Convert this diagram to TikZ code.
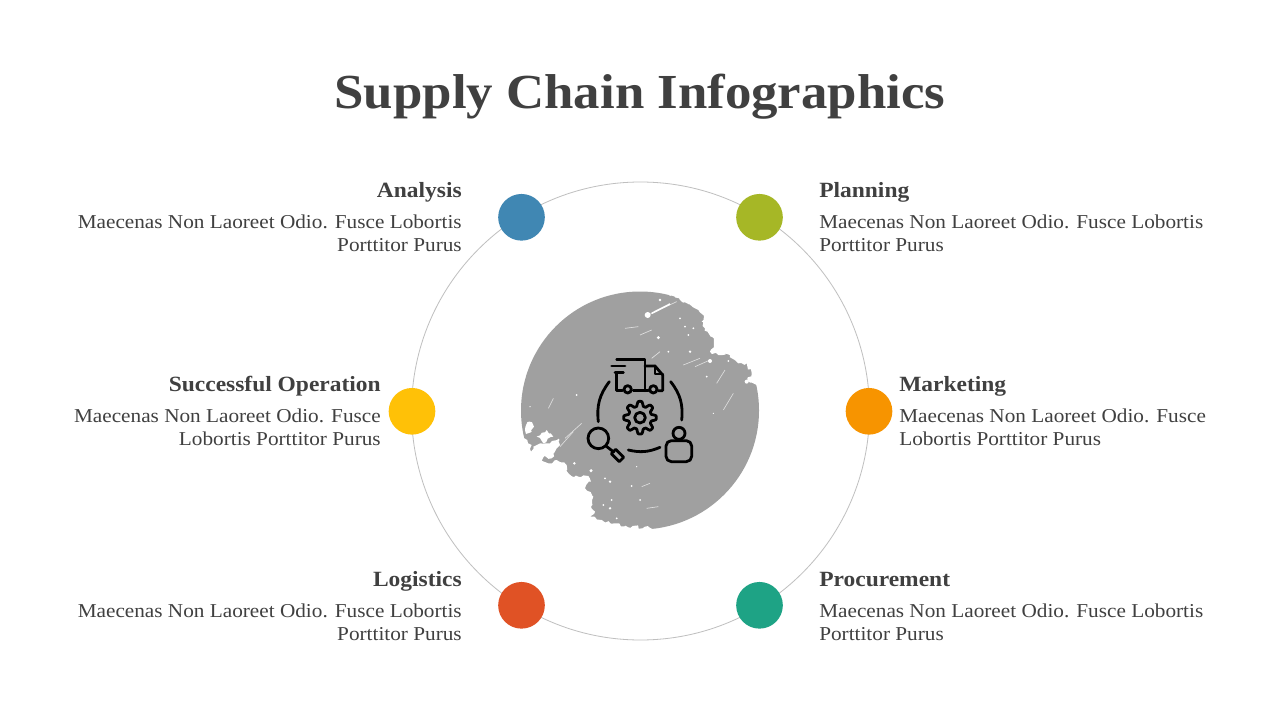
\documentclass[tikz,border=0pt]{standalone}
\usepackage{fontspec}
\setmainfont[FakeStretch=1.08]{Liberation Serif}
\usetikzlibrary{positioning, decorations.pathmorphing}
\definecolor{inkgray}{HTML}{404040}
\definecolor{brushgray}{HTML}{A0A0A0}
\definecolor{ringgray}{HTML}{BFBFBF}
\definecolor{dotblue}{HTML}{4087B3}
\definecolor{dotolive}{HTML}{A6B726}
\definecolor{dotyellow}{HTML}{FFC107}
\definecolor{dotorange}{HTML}{F79400}
\definecolor{dotred}{HTML}{E05225}
\definecolor{dotteal}{HTML}{1EA385}
\tikzset{
	titletext/.style={text=inkgray, font=\fontsize{36.7}{40}\selectfont\bfseries, inner sep=0pt},
	headtext/.style={text=inkgray, font=\fontsize{16.3}{20}\selectfont\bfseries, inner sep=0pt},
	bodytext/.style={text=inkgray, font=\fontsize{14.75}{17.25}\selectfont, inner sep=0pt},
	dot/.style={circle, minimum size=35pt, inner sep=0pt},
	icon/.style={draw=black, line width=2.1pt, line cap=round, line join=round},
	rough/.style={decorate, decoration={random steps, segment length=2.2pt, amplitude=1.3pt}},
	speck/.style={draw=white!65!brushgray, line width=.5pt},
}
\begin{document}
\begin{tikzpicture}[x=.75pt, y=-.75pt]
	\useasboundingbox[fill=white] (0,0) rectangle (1280,720);
	\node[titletext, anchor=base] (title) at (640,109) {Supply Chain Infographics};

	\draw[ringgray, line width=.6pt] (640.5,411) circle[radius=229];

	% brushed disc
	\fill[brushgray] (640,410.5) circle[radius=119];
	\begin{scope}[shift={(510,280)}, scale=.33333]
		\fill[white, rough] (490,40) -- (510,60) -- (555,85) -- (582,107) -- (575,125) -- (585,145) -- (605,170) -- (612,190) -- (600,215) -- (625,225) -- (660,225) -- (685,250) -- (710,250) -- (725,280) -- (712,303) -- (740,315) -- (750,335) -- (790,335) -- (790,200) -- (600,20) -- cycle;
		\fill[white, rough] (10,470) -- (43,475) -- (52,480) -- (65,495) -- (63,515) -- (70,500) -- (90,490) -- (120,490) -- (145,480) -- (150,495) -- (130,520) -- (125,535) -- (100,532) -- (95,542) -- (115,550) -- (140,540) -- (170,555) -- (175,580) -- (205,590) -- (235,588) -- (243,605) -- (225,625) -- (250,650) -- (243,680) -- (255,695) -- (240,710) -- (275,720) -- (315,730) -- (355,742) -- (405,740) -- (430,748) -- (440,775) -- (100,780) -- (5,520) -- cycle;
		\fill[white, rough] (58,425) -- (72,440) -- (65,455) -- (48,462) -- (45,448) -- cycle;
		\fill[white, rough] (80,470) -- (110,450) -- (130,470) -- (100,490) -- cycle;
		\draw[speck] (415,105) -- (500,65);
		\draw[white, line width=1.2pt] (425,100) -- (480,72);
		\draw[speck] (390,165) -- (425,150);
		\draw[speck] (345,145) -- (385,140);
		\draw[speck] (115,385) -- (130,355);
		\draw[speck] (150,500) -- (190,455);
		\draw[speck] (165,475) -- (215,430);
		\draw[speck] (555,260) -- (600,240);
		\draw[speck] (520,255) -- (570,235);
		\draw[speck] (425,235) -- (450,215);
		\draw[speck] (640,390) -- (670,340);
		\draw[speck] (395,620) -- (420,610);
		\draw[speck] (410,685) -- (445,680);
		\draw[speck] (270,505) -- (300,480);
		\draw[speck] (620,310) -- (645,270);
		\fill[white] (413,105) circle[radius=9];
		\foreach \sx/\sy/\sr in {445/173/5, 540/215/4, 475/215/3, 535/165/3, 525/140/3, 550/145/3, 510/115/3, 600/243/6, 655/243/3, 590/290/3, 710/305/6, 243/572/5, 300/605/4, 365/618/3, 285/595/3, 193/550/4, 300/685/4, 305/660/3, 280/675/3, 320/715/3, 390/660/3, 145/480/4, 200/345/3, 60/380/2, 450/60/4, 480/45/3, 610/400/2, 380/560/2}
			\fill[white] (\sx,\sy) circle[radius=\sr];
	\end{scope}

	% icon
	\begin{scope}[shift={(580,350)}, scale=.33333]
		\draw[icon] (110,70) -- (110,122) -- (127,122);
		\draw[icon] (110,28) -- (195,28) -- (195,122);
		\draw[icon] (160,122) -- (205,122);
		\draw[icon] (95,48) -- (135,48);
		\draw[icon] (105,68) -- (130,68);
		\draw[icon] (195,48) -- (225,48) -- (248,75) -- (248,122) -- (235,122);
		\draw[icon] (225,48) -- (225,72) -- (248,72);
		\draw[icon] (143,118) circle[radius=11];
		\draw[icon] (220,118) circle[radius=11];
		\draw[icon] (88,95) to[bend right=22] (55,215);
		\draw[icon] (272,95) to[bend left=22] (305,210);
		\draw[icon] (145,300) to[bend right=18] (240,292);
		\draw[icon] plot[domain=0:360, samples=97, smooth] ({180+(42+7*max(-1,min(1,1.6*cos(8*\x))))*cos(\x)}, {203+(42+7*max(-1,min(1,1.6*cos(8*\x))))*sin(\x)});
		\draw[icon] (180,203) circle[radius=16];
		\draw[icon] (55,265) circle[radius=31];
		\draw[icon] (78,288) -- (101,306);
		\draw[icon] (107,298) -- (131,322) -- (118,335) -- (94,311) -- cycle;
		\draw[icon] (297,250) circle[radius=18];
		\draw[icon, rounded corners=4pt] (258,335) -- (258,272) -- (335,272) -- (335,335) -- cycle;
	\end{scope}

	% markers
	\node[dot, fill=dotblue] (analysis) at (521.5,217.3) {};
	\node[dot, fill=dotolive] (planning) at (759.5,217.3) {};
	\node[dot, fill=dotyellow] (operation) at (412,411.3) {};
	\node[dot, fill=dotorange] (marketing) at (869,411.3) {};
	\node[dot, fill=dotred] (logistics) at (521.5,605.3) {};
	\node[dot, fill=dotteal] (procurement) at (759.5,605.3) {};

	% labels
	\node[headtext, anchor=base east] (analysishead) at (462,197.5) {Analysis};
	\node[bodytext, anchor=north east, align=right] (analysisbody) at (462,215) {Maecenas Non Laoreet Odio. Fusce Lobortis\\Porttitor Purus};
	\node[headtext, anchor=base west] (planninghead) at (819,197.5) {Planning};
	\node[bodytext, anchor=north west, align=left] (planningbody) at (819,215) {Maecenas Non Laoreet Odio. Fusce Lobortis\\Porttitor Purus};
	\node[headtext, anchor=base east] (operationhead) at (381,391.5) {Successful Operation};
	\node[bodytext, anchor=north east, align=right] (operationbody) at (381,409) {Maecenas Non Laoreet Odio. Fusce\\Lobortis Porttitor Purus};
	\node[headtext, anchor=base west] (marketinghead) at (899,391.5) {Marketing};
	\node[bodytext, anchor=north west, align=left] (marketingbody) at (899,409) {Maecenas Non Laoreet Odio. Fusce\\Lobortis Porttitor Purus};
	\node[headtext, anchor=base east] (logisticshead) at (462,586.5) {Logistics};
	\node[bodytext, anchor=north east, align=right] (logisticsbody) at (462,604) {Maecenas Non Laoreet Odio. Fusce Lobortis\\Porttitor Purus};
	\node[headtext, anchor=base west] (procurementhead) at (819,586.5) {Procurement};
	\node[bodytext, anchor=north west, align=left] (procurementbody) at (819,604) {Maecenas Non Laoreet Odio. Fusce Lobortis\\Porttitor Purus};
\end{tikzpicture}
\end{document}
